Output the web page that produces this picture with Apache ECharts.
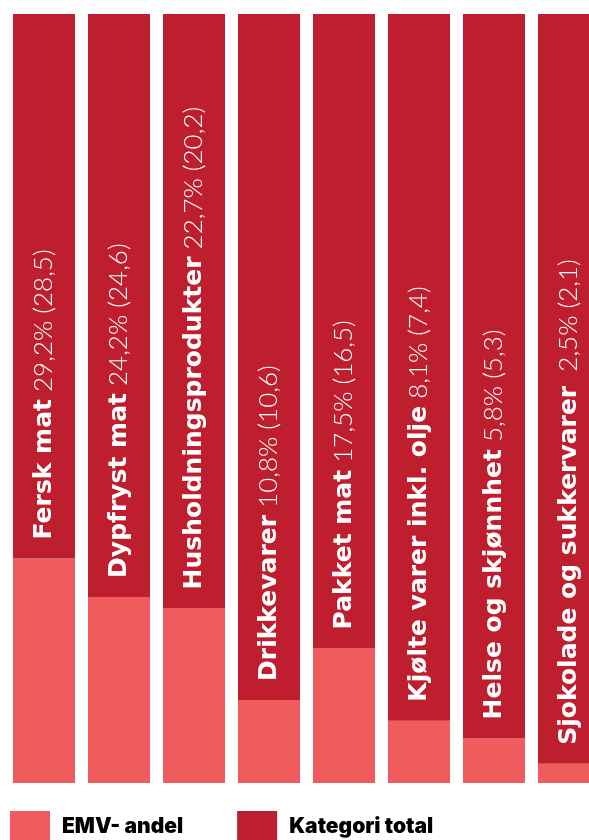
<!DOCTYPE html>
<html>
<head>
<meta charset="utf-8">
<script src="https://cdn.jsdelivr.net/npm/echarts@6/dist/echarts.min.js"></script>
<style>
html,body{margin:0;padding:0;background:#fff;overflow:hidden;width:589px;height:840px;}
#chart{width:620px;height:840px;}
</style>
</head>
<body>
<div id="chart"></div>
<script>
var categories = ['Fersk mat','Dypfryst mat','Husholdningsprodukter','Drikkevarer','Pakket mat','Kjølte varer inkl. olje','Helse og skjønnhet','Sjokolade og sukkervarer'];
var emvShare = [29.2, 24.2, 22.7, 10.8, 17.5, 8.1, 5.8, 2.5];
var prevShare = [28.5, 24.6, 20.2, 10.6, 16.5, 7.4, 5.3, 2.1];
var labelGap = [' ', ' ', ' ', ' ', ' ', ' ', ' ', '  '];
var categoryTotal = 100;

function fmt(v){ return v.toFixed(1).replace('.', ','); }

var restShare = emvShare.map(function(v){ return +(categoryTotal - v).toFixed(1); });

var chart = echarts.init(document.getElementById('chart'), null, {renderer:'canvas'});
chart.setOption({
  animation:false,
  grid:{left:6.5, top:14, width:600, height:769},
  xAxis:{type:'category', data:categories, show:false},
  yAxis:{type:'value', min:0, max:categoryTotal, show:false},
  legend:{
    left:10, top:811, padding:0, itemWidth:40, itemHeight:32, itemGap:54,
    icon:'rect',
    textStyle:{fontFamily:'Inter', fontWeight:900, fontSize:21, color:'#000', padding:[0,0,0,7]},
    data:['EMV- andel','Kategori total']
  },
  series:[
    {
      name:'EMV- andel', type:'bar', stack:'a', barWidth:62,
      itemStyle:{color:'#f05b5e'},
      data:emvShare
    },
    {
      name:'Kategori total', type:'bar', stack:'a', barWidth:62,
      itemStyle:{color:'#be1e2d'},
      data:restShare,
      label:{
        show:true, position:'insideBottom', distance:19, rotate:90,
        align:'left', verticalAlign:'middle',
        formatter:function(p){
          var i = p.dataIndex;
          return '{b|' + categories[i] + '}{n|' + labelGap[i] + fmt(emvShare[i]) + '% (' + fmt(prevShare[i]) + ')}';
        },
        rich:{
          b:{fontFamily:'DejaVu Sans', fontWeight:'bold', fontSize:25, color:'#fff'},
          n:{fontFamily:'Lato', fontWeight:300, fontSize:26, color:'#fff'}
        }
      }
    }
  ]
});
</script>
</body>
</html>
